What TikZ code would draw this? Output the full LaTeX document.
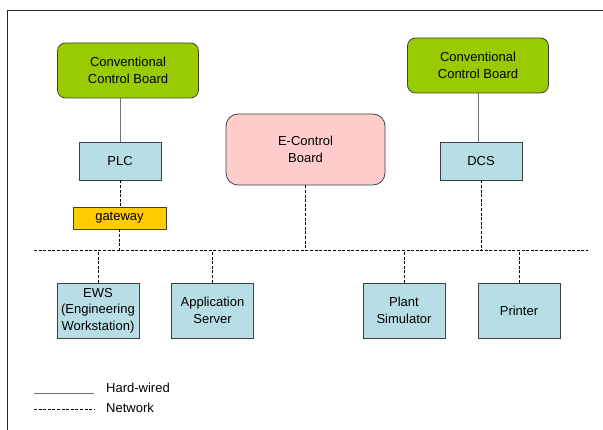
\documentclass[tikz,border=0pt]{standalone}
\usepackage{fontspec}
\setmainfont{Liberation Sans}

\definecolor{boardgreen}{RGB}{153,204,0}
\definecolor{boardpink}{RGB}{255,204,204}
\definecolor{unitblue}{RGB}{183,222,228}
\definecolor{gwyellow}{RGB}{255,204,0}

\begin{document}
\begin{tikzpicture}[
            x=1pt, y=-1pt,
            font=\fontsize{13}{16.5}\selectfont,
            box/.style={draw=black!75, line width=0.8pt, align=center, inner sep=0pt},
            board/.style={box, fill=boardgreen, rounded corners=8pt, minimum width=141pt, minimum height=55pt},
            unit/.style={box, fill=unitblue, minimum width=82pt, minimum height=38pt},
            station/.style={unit, minimum height=55pt},
            wire/.style={draw=black!55, line width=0.8pt},
            net/.style={draw=black, line width=0.9pt, dash pattern=on 3pt off 1.6pt},
        ]
            \useasboundingbox (0,0) rectangle (603,430);
            % frame (only top and left edge show)
            \draw[black!85, line width=0.9pt] (7,430) -- (7,10) -- (603,10);

            % control boards
            \node [board] (cboardL) at (128,70.5) {Conventional\\Control Board};
            \node [board] (cboardR) at (478,65.5) {Conventional\\Control Board};
            \node [box, fill=boardpink, rounded corners=12pt, minimum width=159pt, minimum height=71pt]
                (eboard) at (305.5,149.5) {E-Control\\Board};

            \node [unit] (plc) at (120,161) {PLC};
            \node [unit] (dcs) at (481,161) {DCS};
            \node [box, fill=gwyellow, minimum width=93pt, minimum height=22pt] (gw) at (119.5,218) {gateway};

            % stuff hanging off the network
            \node [station] (ews) at (98,310.5) {EWS\\(Engineering\\Workstation)};
            \node [station] (appsrv) at (212.5,310.5) {Application\\Server};
            \node [station] (plantsim) at (404,310.5) {Plant\\Simulator};
            \node [station] (printer) at (519,310.5) {Printer};

            % the bus
            \coordinate (busL) at (34,250.5);
            \coordinate (busR) at (588,250.5);
            \draw [net] (busL) -- (busR);

            % hard-wired links
            \draw [wire] (plc.north) -- (plc.north |- cboardL.south);
            \draw [wire] (cboardR.south) -- (cboardR.south |- dcs.north);

            % network links
            \draw [net] (plc.south) -- (plc.south |- gw.north);
            \draw [net] (gw.south) -- (gw.south |- busL);
            \draw [net] (eboard.south) -- (eboard.south |- busL);
            \draw [net] (dcs.south) -- (dcs.south |- busL);
            \draw [net] (ews.north) -- (ews.north |- busL);
            \draw [net] (appsrv.north) -- (appsrv.north |- busL);
            \draw [net] (plantsim.north) -- (plantsim.north |- busL);
            \draw [net] (printer.north) -- (printer.north |- busL);

            % legend
            \coordinate (lgA) at (34,393);
            \coordinate (lgB) at (94,393);
            \coordinate (lgC) at (34,409);
            \coordinate (lgD) at (94,409);
            \draw [wire] (lgA) -- (lgB);
            \draw [net] (lgC) -- (lgD);
            \node [anchor=west, inner sep=0pt] (lghard) at (106,388) {Hard-wired};
            \node [anchor=west, inner sep=0pt] (lgnet) at (106,408) {Network};
        \end{tikzpicture}
\end{document}
